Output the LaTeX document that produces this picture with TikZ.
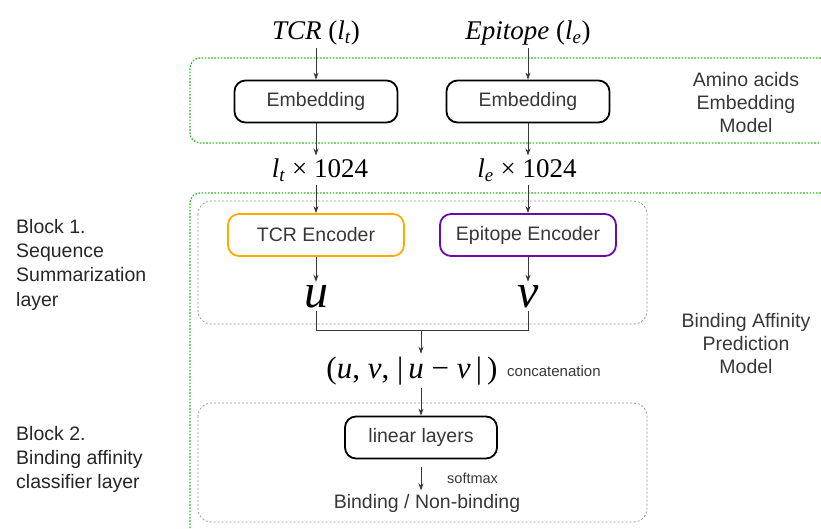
\documentclass[tikz,border=0pt]{standalone}
\usepackage{fontspec}
\setmainfont{Liberation Sans}
\newfontfamily\timesfont{Liberation Serif}
\usetikzlibrary{arrows.meta}
\definecolor{framegreen}{RGB}{40,190,30}
\definecolor{blockgray}{RGB}{150,150,150}
\definecolor{textgray}{RGB}{55,55,55}
\definecolor{tcrorange}{RGB}{255,170,0}
\definecolor{epipurple}{RGB}{110,10,170}

\begin{document}
\begin{tikzpicture}[x=1pt,y=-1pt]
	\tikzset{module/.style={draw, rounded corners=11pt, line width=1.8pt, minimum height=42pt, text=textgray, font=\fontsize{19.5}{22}\selectfont}}
	\tikzset{edge/.style={-{Stealth[length=7pt,width=5pt]}, draw=textgray, line width=0.8pt}}
	\tikzset{term/.style={font=\timesfont\fontsize{27}{30}\selectfont, inner sep=3pt}}
	\tikzset{sidetext/.style={text=textgray, font=\fontsize{19.5}{23}\selectfont, align=center, inner sep=0pt}}
	\tikzset{blocktext/.style={text=black!85, font=\fontsize{19.5}{24.3}\selectfont, align=left, inner sep=0pt, anchor=north west}}
	\tikzset{model/.style={draw=framegreen, line width=1.2pt, dash pattern=on 1.6pt off 1.6pt, rounded corners=10pt}}
	\tikzset{blockframe/.style={draw=blockgray, line width=0.8pt, dash pattern=on 2pt off 2pt, rounded corners=13pt}}
	
	\useasboundingbox (0,0) rectangle (821,528);
	
	% model frames
	\draw[model] (840,58) -- (190,58) -- (190,143) -- (840,143);
	\draw[model] (840,193) -- (190,193) -- (190,545);
	\draw[blockframe] (198,201) rectangle (647,324);
	\draw[blockframe] (198,403) rectangle (647,522);
	
	% embedding
	\node(tcr) at (316,33) [term] {\textit{TCR} (\textit{l}\textsubscript{\textit{t}})};
	\node(epi) at (528,33) [term] {\textit{Epitope} (\textit{l}\textsubscript{\textit{e}})};
	\node(emb1) at (316,101.5) [module, minimum width=163pt] {Embedding};
	\node(emb2) at (528,101.5) [module, minimum width=163pt] {Embedding};
	\node(lt) at (320,170) [term] {\textit{l}\textsubscript{\textit{t}} × 1024};
	\node(le) at (527,170) [term] {\textit{l}\textsubscript{\textit{e}} × 1024};
	\draw[edge](tcr) -- (emb1);
	\draw[edge](epi) -- (emb2);
	\draw[edge](emb1) -- (emb1 |- lt.north);
	\draw[edge](emb2) -- (emb2 |- le.north);
	
	% block 1
	\node(enc1) at (316,235) [module, draw=tcrorange, minimum width=176pt] {TCR Encoder};
	\node(enc2) at (528,235) [module, draw=epipurple, minimum width=176pt] {Epitope Encoder};
	\node(u) at (316,307) [term, anchor=base, font=\timesfont\itshape\fontsize{48}{50}\selectfont] {u};
	\node(v) at (528,307) [term, anchor=base, font=\timesfont\itshape\fontsize{48}{50}\selectfont] {v};
	\draw[edge](enc1 |- lt.south) -- (enc1);
	\draw[edge](enc2 |- le.south) -- (enc2);
	\draw[edge](enc1) -- (u);
	\draw[edge](enc2) -- (v);
	
	\coordinate(uj) at (316,330);
	\coordinate(vj) at (528,330);
	\coordinate(mid) at (421,330);
	\draw[draw=textgray, line width=0.8pt] (u.south) -- (uj) -- (vj) -- (v.south);
	
	% block 2
	\node(cat) at (412,371) [term, font=\timesfont\fontsize{31}{34}\selectfont] {(\textit{u}, \textit{v}, |\,\textit{u} − \textit{v}\,|\,)};
	\node(catlbl) at (507,371) [anchor=west, inner sep=0pt, text=textgray, font=\fontsize{15}{18}\selectfont] {concatenation};
	\node(lin) at (421,437.5) [module, minimum width=152pt] {linear layers};
	\node(out) at (427,503) [text=textgray, font=\fontsize{19.5}{23}\selectfont] {Binding / Non-binding};
	\node(smax) at (447,478) [anchor=west, inner sep=0pt, text=textgray, font=\fontsize{14.5}{17}\selectfont] {softmax};
	\draw[edge](mid) -- (mid |- cat.north);
	\draw[edge](lin |- cat.south) -- (lin);
	\draw[edge, shorten <=8pt](lin.south) -- (lin.south |- out.north);
	
	% side labels
	\node(blk1) at (16,219) [blocktext] {Block 1.\\Sequence\\Summarization\\layer};
	\node(blk2) at (16,426) [blocktext] {Block 2.\\Binding affinity\\classifier layer};
	\node(embmodel) at (746,72) [sidetext, anchor=north] {Amino acids\\Embedding\\Model};
	\node(predmodel) at (746,313) [sidetext, anchor=north] {Binding Affinity\\Prediction\\Model};
\end{tikzpicture}
\end{document}
